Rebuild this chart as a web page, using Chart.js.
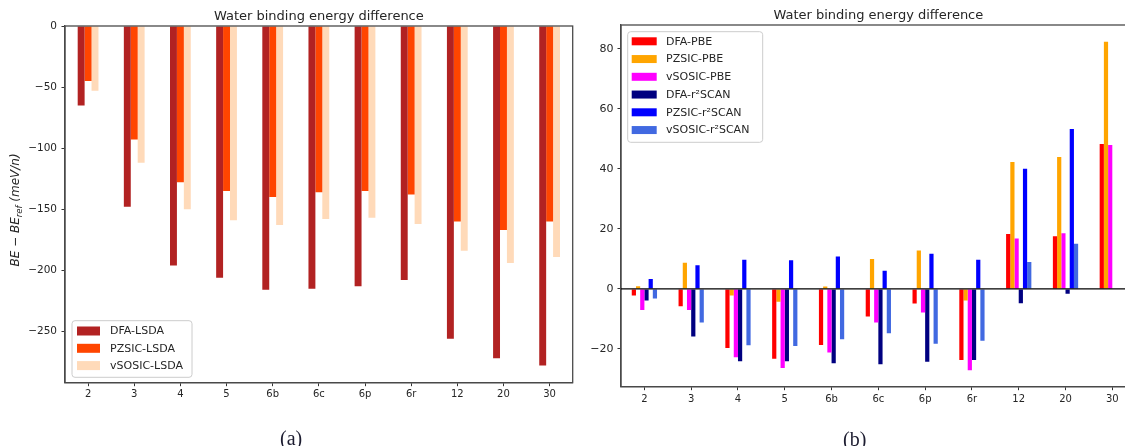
<!DOCTYPE html>
<html><head><meta charset="utf-8">
<script src="https://cdn.jsdelivr.net/npm/chart.js@4"></script>
<style>
html,body{margin:0;padding:0;background:#fff;width:1125px;height:446px;overflow:hidden;position:relative}
#ca{position:absolute;left:0;top:0}
#cb{position:absolute;left:580px;top:0}
.cap{position:absolute;font-family:"Liberation Serif","DejaVu Serif",serif;font-size:20px;color:#1c1c30;line-height:20px}
</style></head><body>
<canvas id="ca" width="590" height="446"></canvas>
<canvas id="cb" width="570" height="446"></canvas>
<div class="cap" style="left:280px;top:428px">(a)</div>
<div class="cap" style="left:843px;top:429px">(b)</div>
<script>
// ---- data ----
const categories = ['2','3','4','5','6b','6c','6p','6r','12','20','30'];
const titleText = 'Water binding energy difference';

// panel (a)
const dfaLSDA    = [-65, -148, -196, -206, -216, -215, -213, -208, -256, -272, -278];
const pzsicLSDA  = [-45, -93, -128, -135, -140, -136, -135, -138, -160, -167, -160];
const vsosicLSDA = [-53, -112, -150, -159, -163, -158, -157, -162, -184, -194, -189];
const ticksA = [0, -50, -100, -150, -200, -250];

// panel (b)  (r2SCAN values for 30 are not shown in the figure)
const dfaPBE      = [-2.2, -5.8, -19.7, -23.3, -18.7, -9.2, -4.9, -23.7, 18.3, 17.6, 48.3];
const pzsicPBE    = [0.9, 8.7, -2.2, -4.3, 0.8, 10.0, 12.8, -3.9, 42.3, 44.0, 82.4];
const vsosicPBE   = [-7.0, -7.0, -22.8, -26.4, -21.2, -11.2, -7.9, -27.1, 16.8, 18.6, 48.0];
const dfaSCAN     = [-3.9, -15.9, -24.1, -24.1, -24.8, -25.1, -24.3, -23.7, -4.8, -1.6, null];
const pzsicSCAN   = [3.3, 7.9, 9.7, 9.6, 10.8, 6.1, 11.7, 9.7, 40.1, 53.3, null];
const vsosicSCAN  = [-3.2, -11.2, -18.8, -19.0, -16.8, -14.8, -18.3, -17.3, 9.0, 15.1, null];
const ticksB = [-20, 0, 20, 40, 60, 80];

const TXT = '#262626';
const FONT = '"DejaVu Sans", sans-serif';
const fmt = v => v < 0 ? '\u2212' + Math.abs(v) : String(v);

function legendPlugin(cfg) {
  return {
    id: 'customDraw',
    afterDraw(chart) {
      const ctx = chart.ctx, a = chart.chartArea;
      ctx.save();
      ctx.strokeStyle = '#4a4a4a'; ctx.lineWidth = 1.3;
      ctx.strokeRect(a.left, a.top, a.right - a.left, a.bottom - a.top);
      if (cfg.zero) {
        const y = chart.scales.y.getPixelForValue(0);
        ctx.strokeStyle = '#000'; ctx.lineWidth = 1.2;
        ctx.beginPath(); ctx.moveTo(a.left, y); ctx.lineTo(a.right, y); ctx.stroke();
      }
      ctx.fillStyle = TXT; ctx.font = '13px ' + FONT;
      ctx.textAlign = 'center'; ctx.textBaseline = 'alphabetic';
      ctx.fillText(titleText, (a.left + a.right) / 2, a.top - 6);
      if (cfg.ylabel) {
        ctx.save();
        ctx.translate(cfg.ylabel.x, cfg.ylabel.y);
        ctx.rotate(-Math.PI / 2);
        const p1 = 'BE \u2212 BE', p2 = 'ref', p3 = ' (meV/n)';
        ctx.font = 'italic 12px ' + FONT;
        const w1 = ctx.measureText(p1).width, w3 = ctx.measureText(p3).width;
        ctx.font = 'italic 8.5px ' + FONT;
        const w2 = ctx.measureText(p2).width;
        let x = -(w1 + w2 + w3) / 2;
        ctx.textAlign = 'left'; ctx.textBaseline = 'middle';
        ctx.font = 'italic 12px ' + FONT; ctx.fillText(p1, x, 0); x += w1;
        ctx.font = 'italic 8.5px ' + FONT; ctx.fillText(p2, x, 3.5); x += w2;
        ctx.font = 'italic 12px ' + FONT; ctx.fillText(p3, x, 0);
        ctx.restore();
      }
      const L = cfg.legend;
      ctx.fillStyle = 'rgba(255,255,255,0.8)'; ctx.strokeStyle = '#cccccc'; ctx.lineWidth = 1;
      const r = 3;
      ctx.beginPath();
      ctx.moveTo(L.x0 + r, L.y0); ctx.lineTo(L.x1 - r, L.y0); ctx.arcTo(L.x1, L.y0, L.x1, L.y0 + r, r);
      ctx.lineTo(L.x1, L.y1 - r); ctx.arcTo(L.x1, L.y1, L.x1 - r, L.y1, r);
      ctx.lineTo(L.x0 + r, L.y1); ctx.arcTo(L.x0, L.y1, L.x0, L.y1 - r, r);
      ctx.lineTo(L.x0, L.y0 + r); ctx.arcTo(L.x0, L.y0, L.x0 + r, L.y0, r);
      ctx.closePath(); ctx.fill(); ctx.stroke();
      ctx.font = '11px ' + FONT; ctx.textAlign = 'left'; ctx.textBaseline = 'middle';
      chart.data.datasets.forEach((ds, i) => {
        const yc = L.yFirst + i * L.step;
        ctx.fillStyle = ds.backgroundColor;
        ctx.fillRect(L.sx0, yc - L.sh / 2, L.sx1 - L.sx0, L.sh);
        ctx.fillStyle = TXT;
        ctx.fillText(ds.label, L.tx, yc + 0.5);
      });
      ctx.restore();
    }
  };
}

function makeChart(id, datasets, opt) {
  return new Chart(document.getElementById(id), {
    type: 'bar',
    data: { labels: categories, datasets: datasets.map(d => ({
      label: d[0], data: d[1], backgroundColor: d[2], borderWidth: 0,
      categoryPercentage: opt.catPct, barPercentage: 1
    })) },
    options: {
      responsive: false, animation: false,
      layout: { padding: opt.padding },
      plugins: { legend: { display: false }, tooltip: { enabled: false }, title: { display: false } },
      scales: {
        x: {
          offset: true,
          grid: { display: true, drawOnChartArea: false, drawTicks: true, tickLength: 3.5, color: '#333', offset: false },
          border: { display: true, color: '#4a4a4a', width: 1.3 },
          ticks: { color: TXT, font: { family: FONT, size: 10 }, padding: opt.xpad, maxRotation: 0, autoSkip: false },
          afterFit(s) { s.height = opt.xh; }
        },
        y: {
          min: opt.min, max: opt.max,
          grid: { display: true, drawOnChartArea: false, drawTicks: true, tickLength: 3.5, color: '#333' },
          border: { display: true, color: '#4a4a4a', width: 1.3 },
          ticks: { color: TXT, font: { family: FONT, size: opt.yfs }, padding: opt.ypad, callback: fmt },
          afterBuildTicks(s) { s.ticks = opt.ticks.map(v => ({ value: v })); },
          afterFit(s) { s.width = opt.yw; }
        }
      }
    },
    plugins: [legendPlugin(opt.cfg)]
  });
}

makeChart('ca', [
  ['DFA-LSDA', dfaLSDA, '#b22222'],
  ['PZSIC-LSDA', pzsicLSDA, '#ff4500'],
  ['vSOSIC-LSDA', vsosicLSDA, '#ffdab9']
], {
  catPct: 0.45, padding: { top: 26, right: 17.3, left: 0, bottom: 0 },
  xh: 63.3, yw: 65, xpad: 2, ypad: 4.5, yfs: 10.5, min: -292, max: 0, ticks: ticksA,
  cfg: {
    ylabel: { x: 16, y: 210 },
    legend: { x0: 72, x1: 192, y0: 320.7, y1: 377.3, yFirst: 331, step: 17.3, sx0: 77, sx1: 100, sh: 9, tx: 110 }
  }
});

makeChart('cb', [
  ['DFA-PBE', dfaPBE, '#ff0000'],
  ['PZSIC-PBE', pzsicPBE, '#ffa500'],
  ['vSOSIC-PBE', vsosicPBE, '#ff00ff'],
  ['DFA-r\u00b2SCAN', dfaSCAN, '#000080'],
  ['PZSIC-r\u00b2SCAN', pzsicSCAN, '#0000ff'],
  ['vSOSIC-r\u00b2SCAN', vsosicSCAN, '#4169e1']
], {
  catPct: 0.54, padding: { top: 25, right: 14.3, left: 0, bottom: 0 },
  xh: 59.3, yw: 41, xpad: 3, ypad: 4, yfs: 11, min: -32.6, max: 88, ticks: ticksB,
  cfg: {
    zero: true,
    legend: { x0: 47.7, x1: 182.7, y0: 31.7, y1: 142.3, yFirst: 41.3, step: 17.75, sx0: 51.7, sx1: 76.7, sh: 8, tx: 86 }
  }
});
</script>
</body></html>
